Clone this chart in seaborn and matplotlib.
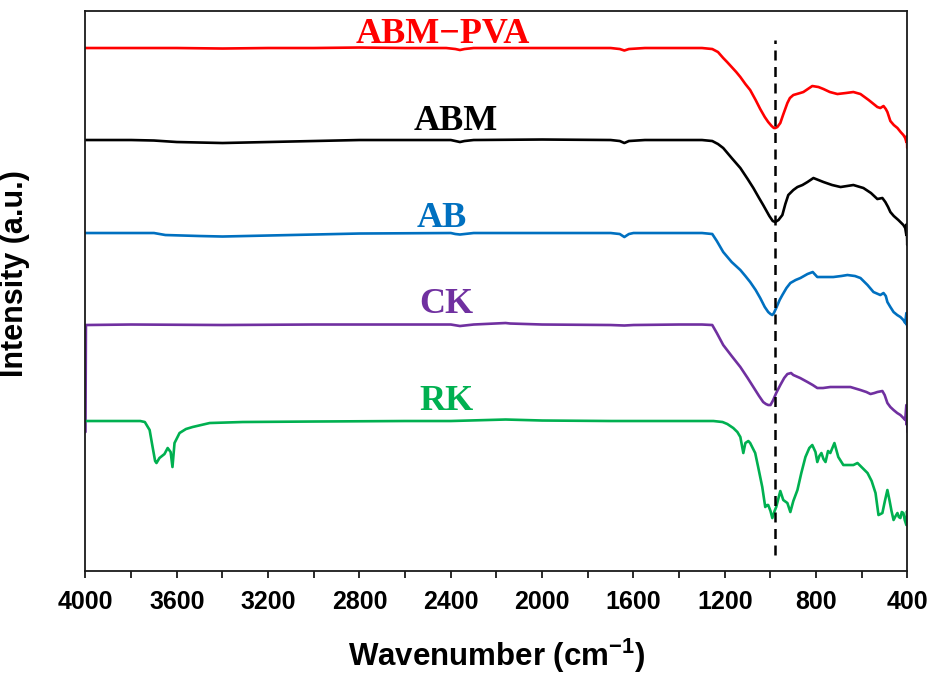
import matplotlib
matplotlib.use("Agg")
import matplotlib.pyplot as plt
from matplotlib.ticker import MultipleLocator
import numpy as np
import pandas as pd
import seaborn as sns

# FTIR spectra (stacked, arbitrary intensity units)
series_names = ["ABM\u2212PVA", "ABM", "AB", "CK", "RK"]
series_colors = ["#FF0000", "#000000", "#0070C0", "#7030A0", "#00B050"]
baselines = [552, 460, 367, 275, 179]

pva_wn = [4000, 3800, 3600, 3400, 3200, 3000, 2800, 2600, 2420, 2380, 2360, 2340, 2300, 2100,
          1900, 1700, 1660, 1640, 1620, 1550, 1400, 1300, 1255, 1230, 1207, 1190, 1170, 1150,
          1132, 1110, 1089, 1065, 1045, 1025, 1010, 995, 985, 979, 970, 957, 945, 926, 915,
          900, 870, 856, 817, 790, 768, 740, 707, 670, 637, 606, 570, 532, 519, 505, 495,
          488, 475, 460, 444, 430, 418, 410, 405, 403, 401, 400]
pva_val = [0, 0, 0, -0.5, 0, 0, 0.5, 0, 0, -1, -2, -1, 0, 0,
           0, 0, -1, -2.5, -1, 0, 0, 0, -1, -4, -10, -14, -19, -24,
           -29, -36, -42, -52, -61, -69, -74, -78, -80, -80, -79, -75, -67, -55, -50,
           -47, -45, -44, -38, -39, -41, -44, -46, -45, -44, -46, -52, -59, -60, -58, -61,
           -64, -73, -77, -80, -84, -87, -90, -94, -88, -100, -92]

abm_wn = [4000, 3800, 3700, 3600, 3400, 3200, 3000, 2800, 2400, 2380, 2360, 2340, 2300, 2000,
          1700, 1660, 1640, 1620, 1550, 1400, 1300, 1255, 1230, 1207, 1170, 1132, 1100, 1075,
          1050, 1032, 1005, 990, 979, 965, 948, 935, 922, 900, 882, 860, 838, 812, 790, 768,
          730, 693, 665, 637, 593, 560, 532, 510, 497, 485, 475, 460, 440, 418, 410, 405,
          403, 401, 400]
abm_val = [0, 0, -0.5, -2, -3, -2, -1, 0, 0, -1, -2, -1, 0, 0.5,
           0, -1, -3, -1, 0, 0, 0, -1, -4, -8, -18, -28, -39, -48,
           -58, -65, -76, -81, -82, -80, -75, -64, -55, -50, -47, -45, -42, -38, -40, -42,
           -45, -47, -46, -45, -48, -53, -59, -58, -62, -67, -72, -76, -80, -85, -88, -95,
           -84, -105, -96]

ab_wn = [4000, 3800, 3700, 3650, 3500, 3400, 3200, 3000, 2800, 2400, 2380, 2360, 2340, 2300,
         1700, 1660, 1640, 1620, 1600, 1400, 1300, 1255, 1235, 1207, 1170, 1132, 1110, 1089,
         1065, 1045, 1025, 1010, 1000, 992, 985, 975, 960, 948, 930, 913, 890, 869, 838,
         815, 795, 760, 725, 690, 663, 630, 606, 575, 549, 519, 505, 495, 488, 475, 461,
         445, 431, 418, 410, 405, 403, 401, 400]
ab_val = [0, 0, 0, -2, -3, -3.5, -2.5, -1.5, -0.5, 0, -1, -1.5, -1, 0,
          0, -1, -4, -1, 0, 0, 0, -1, -8, -19, -29, -37, -43, -49,
          -57, -65, -74, -79, -81, -82, -80, -75, -67, -62, -55, -50, -47, -45, -41,
          -39, -44, -44, -44, -43, -42, -43, -45, -52, -59, -62, -60, -63, -69, -74, -79,
          -82, -84, -87, -90, -80, -92, -84, -95]

ck_wn = [4000, 3998, 3800, 3400, 3000, 2600, 2400, 2360, 2300, 2160, 2140, 2000, 1700, 1640,
         1600, 1400, 1300, 1255, 1235, 1207, 1170, 1132, 1100, 1075, 1050, 1032, 1020, 1010,
         1000, 988, 975, 957, 940, 926, 910, 900, 870, 838, 815, 795, 770, 738, 700, 650,
         606, 580, 562, 545, 532, 510, 500, 488, 475, 461, 445, 431, 418, 410, 405, 403,
         401, 400]
ck_val = [-107, 0, 0.5, 0, 0.5, 0.5, 0.5, -1, 0.5, 2, 1.5, 0.5, 0, -0.5,
          0, 0.5, 0.5, 0, -8, -20, -31, -42, -53, -62, -71, -77, -79, -80,
          -80, -75, -68, -60, -53, -49, -48, -50, -53, -57, -60, -63, -63, -62, -62, -62,
          -65, -67, -69, -68, -67, -66, -70, -78, -82, -85, -88, -90, -93, -95, -80, -100,
          -88, -107]

rk_wn = [4000, 3800, 3760, 3740, 3719, 3706, 3695, 3689, 3676, 3654, 3640, 3627, 3619, 3610,
         3588, 3560, 3531, 3456, 3312, 3000, 2600, 2400, 2160, 2000, 1700, 1400, 1300, 1250,
         1210, 1189, 1163, 1145, 1132, 1119, 1110, 1097, 1089, 1067, 1054, 1036, 1023, 1015,
         1010, 1000, 992, 982, 975, 957, 944, 926, 913, 900, 882, 865, 847, 830, 817, 803,
         795, 786, 777, 768, 759, 748, 738, 720, 703, 681, 660, 637, 619, 597, 575, 557,
         540, 527, 518, 510, 499, 488, 479, 470, 461, 452, 444, 438, 431, 425, 418, 412,
         405, 402, 400]
rk_val = [0, 0, 0, -1, -9, -26, -40, -42, -37, -33, -27, -31, -46, -22,
          -12, -8, -6, -2, -1, -0.5, 0, 0, 1.5, 0.5, 0, 0, 0, 0,
          -1, -3, -7, -11, -16, -32, -22, -20, -22, -32, -46, -66, -86, -84,
          -84, -90, -97, -90, -86, -70, -79, -82, -91, -80, -69, -52, -36, -27, -24, -31,
          -41, -35, -32, -38, -41, -30, -32, -22, -36, -44, -44, -44, -42, -47, -52, -60,
          -72, -94, -93, -92, -80, -69, -79, -90, -99, -95, -92, -96, -97, -91, -92, -99,
          -104, -90, -95]

wn_lists = [pva_wn, abm_wn, ab_wn, ck_wn, rk_wn]
val_lists = [pva_val, abm_val, ab_val, ck_val, rk_val]

frames = []
for name, base, wn, val in zip(series_names, baselines, wn_lists, val_lists):
    frames.append(pd.DataFrame({
        "wavenumber": wn,
        "intensity": np.asarray(val, dtype=float) + base,
        "sample": name,
    }))
spectra = pd.concat(frames, ignore_index=True)

# label placement (wavenumber, intensity) for each spectrum name
label_wn = [2434, 2377, 2438, 2420, 2420]
label_y = [557, 470, 373, 287, 190]

# main absorption band marker
band_wn = 980

sns.set_style("ticks")
plt.rcParams["font.family"] = ["Liberation Sans", "DejaVu Sans"]
plt.rcParams["mathtext.fontset"] = "custom"
plt.rcParams["mathtext.rm"] = "Liberation Sans"
plt.rcParams["mathtext.bf"] = "Liberation Sans:bold"
plt.rcParams["text.color"] = "black"
plt.rcParams["axes.labelcolor"] = "black"
plt.rcParams["xtick.labelcolor"] = "black"

fig = plt.figure(figsize=(9.28, 6.76), dpi=100)
ax = fig.add_axes([0.0921, 0.1553, 0.8858, 0.8284])

sns.lineplot(data=spectra, x="wavenumber", y="intensity", hue="sample",
             hue_order=series_names, palette=series_colors, estimator=None,
             units="sample", sort=False, linewidth=1.9, legend=False, ax=ax)

ax.axvline(band_wn, ymin=0.028, ymax=0.948, color="black", linewidth=1.8,
           dashes=(4, 2.6))

for name, color, lx, ly in zip(series_names, series_colors, label_wn, label_y):
    ax.text(lx, ly, name, color=color, ha="center", va="baseline",
            fontsize=26, fontweight="bold", family=["Liberation Serif", "DejaVu Serif"])

ax.set_xlim(4000, 400)
ax.set_ylim(29, 589)
ax.xaxis.set_major_locator(MultipleLocator(400))
ax.xaxis.set_minor_locator(MultipleLocator(200))
ax.set_yticks([])

for side in ["left", "right", "top", "bottom"]:
    ax.spines[side].set_visible(True)
    ax.spines[side].set_color("#1a1a1a")
    ax.spines[side].set_linewidth(1.3)

ax.tick_params(axis="x", which="both", direction="out", length=5, width=1.3,
               color="#1a1a1a", pad=9)
ax.tick_params(axis="x", which="major", labelsize=18)
for lbl in ax.get_xticklabels():
    lbl.set_fontweight("bold")

ax.set_xlabel(r"Wavenumber (cm$^{\mathbf{-1}}$)", fontsize=22.5, fontweight="bold")
ax.set_ylabel("Intensity (a.u.)", fontsize=22, fontweight="bold")
ax.xaxis.set_label_coords(0.5, -0.118)
ax.yaxis.set_label_coords(-0.067, 0.532)

fig.savefig("out.png", dpi=100)
